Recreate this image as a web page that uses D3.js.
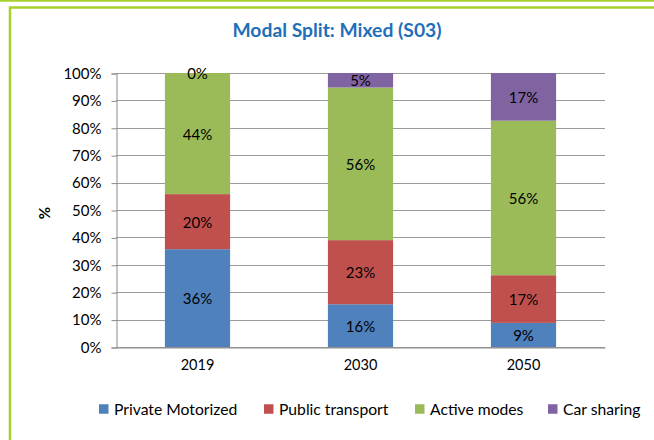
<!DOCTYPE html>
<html>
<head>
  <meta charset="utf-8">
  <script src="https://cdn.jsdelivr.net/npm/d3@7"></script>
  <style>
    body { margin: 0; background: #fff; }
    text { font-family: Lato, "Open Sans", sans-serif; fill: #000; }
  </style>
</head>
<body>
<script>
  // chart data
  var years = ["2019", "2030", "2050"];
  var seriesNames = ["Private Motorized", "Public transport", "Active modes", "Car sharing"];
  var privateMotorized = [35.7, 15.6, 8.8];
  var publicTransport = [20.1, 23.4, 17.4];
  var activeModes = [44.2, 55.7, 56.4];
  var carSharing = [0, 5.3, 17.4];
  var labels = [
    ["36%", "16%", "9%"],
    ["20%", "23%", "17%"],
    ["44%", "56%", "56%"],
    ["0%", "5%", "17%"]
  ];
  var yTicks = [0, 10, 20, 30, 40, 50, 60, 70, 80, 90, 100];
  var colors = ["#4f81bd", "#c0504d", "#9bbb59", "#8064a2"];

  var width = 654, height = 440;
  var svg = d3.select("body").append("svg")
      .attr("width", width)
      .attr("height", height);

  // green frame
  svg.append("line").attr("x1", 0).attr("x2", width).attr("y1", 0.8).attr("y2", 0.8)
      .attr("stroke", "#a8d02a").attr("stroke-width", 2);
  svg.append("path").attr("d", "M10,441 V7.5 H655")
      .attr("fill", "none").attr("stroke", "#a8d02a").attr("stroke-width", 2.5);

  var plot = { left: 116, right: 605, top: 73, bottom: 347 };

  var x = d3.scaleBand().domain(years).range([plot.left, plot.right]).paddingInner(0.6).paddingOuter(0.3);
  var y = d3.scaleLinear().domain([0, 100]).range([plot.bottom, plot.top]);

  var rows = years.map(function(yr, i) {
    return { year: yr, s0: privateMotorized[i], s1: publicTransport[i], s2: activeModes[i], s3: carSharing[i] };
  });
  var stack = d3.stack().keys(["s0", "s1", "s2", "s3"])(rows);

  // gridlines
  svg.append("g").selectAll("line").data(yTicks).join("line")
      .attr("x1", plot.left).attr("x2", plot.right)
      .attr("y1", function(d) { return Math.round(y(d)) + 0.5; })
      .attr("y2", function(d) { return Math.round(y(d)) + 0.5; })
      .attr("stroke", "#9a9a9a").attr("stroke-width", 1);

  // y axis
  var yAxis = d3.axisLeft(y).tickValues(yTicks).tickFormat(function(d) { return d + "%"; }).tickSize(5).tickPadding(10);
  var gy = svg.append("g").attr("transform", "translate(" + (plot.left + 0.5) + ",0.5)").call(yAxis);
  gy.select(".domain").attr("stroke", "#8a8a8a");
  gy.selectAll(".tick line").attr("stroke", "#8a8a8a");
  gy.selectAll("text").style("font-size", "15px").style("font-family", "Lato, sans-serif").attr("fill", "#000");

  // bars
  var layers = svg.append("g").selectAll("g").data(stack).join("g")
      .attr("fill", function(d, i) { return colors[i]; });
  layers.selectAll("rect").data(function(d) { return d; }).join("rect")
      .attr("x", function(d) { return x(d.data.year); })
      .attr("width", x.bandwidth())
      .attr("y", function(d) { return y(d[1]); })
      .attr("height", function(d) { return y(d[0]) - y(d[1]); });

  // x axis
  var xAxis = d3.axisBottom(x).tickSize(0).tickPadding(12);
  var gx = svg.append("g").attr("transform", "translate(0," + (plot.bottom + 0.5) + ")").call(xAxis);
  gx.select(".domain").attr("stroke", "#8a8a8a");
  gx.selectAll("text").style("font-size", "14.5px").style("font-family", "Lato, sans-serif").attr("fill", "#000");

  // data labels
  stack.forEach(function(layer, i) {
    svg.append("g").selectAll("text").data(layer).join("text")
        .attr("x", function(d) { return x(d.data.year) + x.bandwidth() / 2; })
        .attr("y", function(d) { return (y(d[0]) + y(d[1])) / 2; })
        .attr("text-anchor", "middle")
        .attr("dominant-baseline", "central")
        .style("font-size", "15px")
        .text(function(d, j) { return labels[i][j]; });
  });

  // title
  svg.append("text").attr("x", 337).attr("y", 37)
      .attr("text-anchor", "middle")
      .style("font-size", "19.3px").style("font-weight", "bold")
      .style("fill", "#1f6fb8")
      .text("Modal Split: Mixed (S03)");

  // y axis title
  svg.append("text").attr("transform", "translate(50,213) rotate(-90)")
      .attr("text-anchor", "middle")
      .style("font-size", "15px").style("font-weight", "bold")
      .text("%");

  // legend
  var legendX = [99, 264, 415, 548];
  var lg = svg.append("g").selectAll("g").data(seriesNames).join("g")
      .attr("transform", function(d, i) { return "translate(" + legendX[i] + ",409)"; });
  lg.append("rect").attr("x", 0).attr("y", -4.75).attr("width", 9.5).attr("height", 9.5)
      .attr("fill", function(d, i) { return colors[i]; });
  lg.append("text").attr("x", 15).attr("y", 0).attr("dominant-baseline", "central")
      .style("font-size", "15.7px").text(function(d) { return d; });
</script>
</body>
</html>
